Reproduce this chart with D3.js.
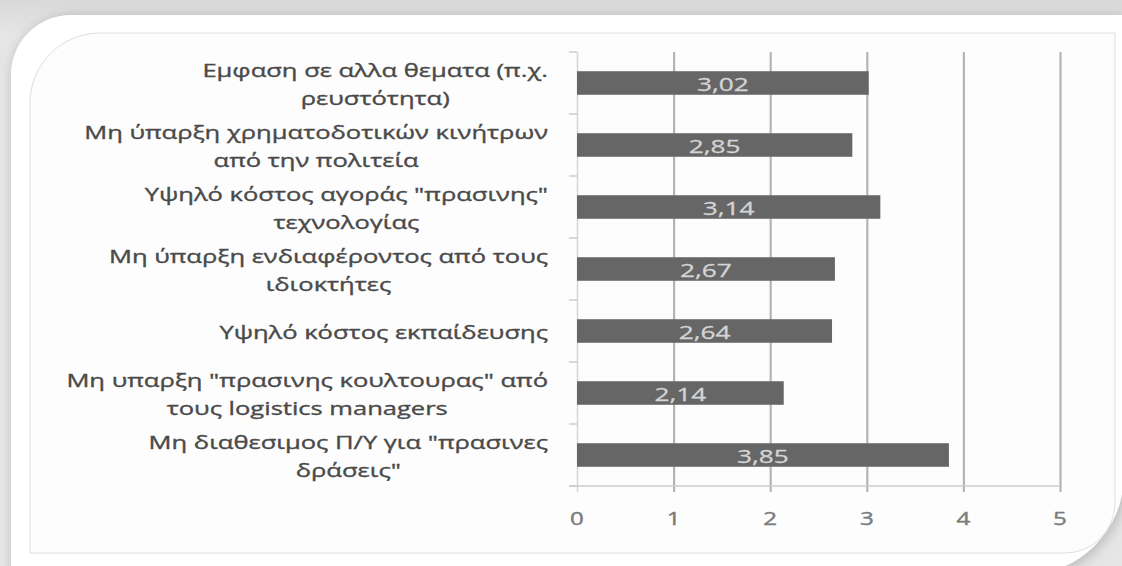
<!DOCTYPE html>
<html>
<head>
<meta charset="utf-8">
<script src="https://cdn.jsdelivr.net/npm/d3@7"></script>
<style>
  html, body { margin: 0; padding: 0; background: #e3e3e3; }
  svg { display: block; }
</style>
</head>
<body>
<svg id="chart" width="1122" height="566"></svg>
<script>
// Barrier categories (top to bottom), each split into its display lines
const categories = [
  "Εμφαση σε αλλα θεματα (π.χ. ρευστότητα)",
  "Μη ύπαρξη χρηματοδοτικών κινήτρων από την πολιτεία",
  "Υψηλό κόστος αγοράς \"πρασινης\" τεχνολογίας",
  "Μη ύπαρξη ενδιαφέροντος από τους ιδιοκτήτες",
  "Υψηλό κόστος εκπαίδευσης",
  "Μη υπαρξη \"πρασινης κουλτουρας\" από τους logistics managers",
  "Μη διαθεσιμος Π/Υ για \"πρασινες δράσεις\""
];
const categoryLines = [
  ["Εμφαση σε αλλα θεματα (π.χ.", "ρευστότητα)"],
  ["Μη ύπαρξη χρηματοδοτικών κινήτρων", "από την πολιτεία"],
  ["Υψηλό κόστος αγοράς \"πρασινης\"", "τεχνολογίας"],
  ["Μη ύπαρξη ενδιαφέροντος από τους", "ιδιοκτήτες"],
  ["Υψηλό κόστος εκπαίδευσης"],
  ["Μη υπαρξη \"πρασινης κουλτουρας\" από", "τους logistics managers"],
  ["Μη διαθεσιμος Π/Υ για \"πρασινες", "δράσεις\""]
];
// Mean scores
const values = [3.02, 2.85, 3.14, 2.67, 2.64, 2.14, 3.85];
const valueLabels = ["3,02", "2,85", "3,14", "2,67", "2,64", "2,14", "3,85"];
// Horizontal axis ticks
const xTicks = [0, 1, 2, 3, 4, 5];

const svg = d3.select("#chart");
const W = 1122, H = 566;
const FONT = "'Open Sans', 'DejaVu Sans', sans-serif";
const SX = 1.38; // text is drawn wide

// ---- frame: grey page, white card with soft shadow, thin inner border ----
const defs = svg.append("defs");
const shadow = defs.append("filter").attr("id", "cardShadow")
  .attr("x", "-10%").attr("y", "-10%").attr("width", "120%").attr("height", "120%");
shadow.append("feDropShadow").attr("dx", 2).attr("dy", 2)
  .attr("stdDeviation", 7).attr("flood-color", "#8a8a8a").attr("flood-opacity", 0.55);

const topGrad = defs.append("linearGradient").attr("id", "pageGrad")
  .attr("x1", 0).attr("y1", 0).attr("x2", 0).attr("y2", 1);
topGrad.append("stop").attr("offset", "0").attr("stop-color", "#d9d9d9");
topGrad.append("stop").attr("offset", "0.06").attr("stop-color", "#e6e6e6");
topGrad.append("stop").attr("offset", "1").attr("stop-color", "#e6e6e6");

svg.append("rect").attr("width", W).attr("height", H).attr("fill", "url(#pageGrad)");

const card = d3.path();
card.moveTo(11, H + 20);
card.lineTo(11, 75);
card.arcTo(11, 15, 71, 15, 60);
card.lineTo(1124, 15);
card.lineTo(1124, 475);
card.arcTo(1124, 575, 1024, 575, 100);
card.lineTo(11, 575);
card.closePath();
svg.append("path").attr("d", card.toString())
  .attr("fill", "#ffffff").attr("filter", "url(#cardShadow)");

const inner = d3.path();
inner.moveTo(30, 553);
inner.lineTo(30, 103);
inner.arcTo(30, 33, 100, 33, 70);
inner.lineTo(1115, 33);
inner.lineTo(1115, 503);
inner.arcTo(1115, 553, 1065, 553, 50);
inner.closePath();
svg.append("path").attr("d", inner.toString())
  .attr("fill", "#fdfdfd").attr("stroke", "#dedede").attr("stroke-width", 1);

// ---- scales ----
const plotTop = 52, plotBottom = 486, plotLeft = 577, plotRight = 1060;
const x = d3.scaleLinear().domain([0, 5]).range([plotLeft, plotRight]);
const y = d3.scaleBand().domain(categories).range([plotTop, plotBottom])
  .paddingInner(0.62).paddingOuter(0.31);

// helper: horizontally stretched text anchored at (px, py)
function wideText(g, px, py, str, opts) {
  return g.append("text")
    .attr("transform", `translate(${px},${py}) scale(${SX},1)`)
    .attr("text-anchor", opts.anchor || "middle")
    .attr("dominant-baseline", "central")
    .attr("font-family", FONT)
    .attr("font-size", opts.size)
    .attr("fill", opts.fill)
    .attr("stroke", opts.fill)
    .attr("stroke-width", opts.weight || 0)
    .text(str);
}

// ---- gridlines + x axis ----
const xAxis = d3.axisBottom(x).tickValues(xTicks)
  .tickSize(-(plotBottom - plotTop)).tickFormat("");
const gx = svg.append("g").attr("transform", `translate(0,${plotBottom})`).call(xAxis);
gx.select(".domain").remove();
gx.selectAll(".tick line").attr("stroke", "#b4b4b4").attr("stroke-width", 2.2)
  .attr("y2", -(plotBottom - plotTop)).attr("y1", 6);
gx.selectAll(".tick").filter(d => d === 0).select("line")
  .attr("stroke", "#d6d6d6").attr("stroke-width", 1.5);

// baseline
svg.append("line").attr("x1", plotLeft - 8).attr("x2", plotRight)
  .attr("y1", plotBottom).attr("y2", plotBottom)
  .attr("stroke", "#cdcdcd").attr("stroke-width", 1.5);

// category boundary ticks on the left axis
const boundaries = d3.range(categories.length + 1).map(i => plotTop + i * y.step());
svg.append("g").selectAll("line").data(boundaries).join("line")
  .attr("x1", plotLeft - 8).attr("x2", plotLeft)
  .attr("y1", d => d).attr("y2", d => d)
  .attr("stroke", "#cdcdcd").attr("stroke-width", 1.5);

// x tick labels
const gxl = svg.append("g");
xTicks.forEach(t => wideText(gxl, x(t), 518, String(t),
  { size: 17.5, fill: "#7c7c7c", weight: 0.4 }));

// ---- bars ----
svg.append("g").selectAll("rect").data(categories).join("rect")
  .attr("x", x(0))
  .attr("y", d => y(d))
  .attr("width", (d, i) => x(values[i]) - x(0))
  .attr("height", y.bandwidth())
  .attr("fill", "#666666");

// value labels centred in the bars
const gv = svg.append("g");
categories.forEach((c, i) => {
  wideText(gv, (x(0) + x(values[i])) / 2, y(c) + y.bandwidth() / 2 + 1,
    valueLabels[i], { size: 19, fill: "#d4d4d4", weight: 0.3 });
});

// ---- category labels: lines centred within a right-aligned block ----
const labelRight = 548, lineGap = 27.5;
const gl = svg.append("g");
categories.forEach((c, i) => {
  const lines = categoryLines[i];
  const cy = y(c) + y.bandwidth() / 2 + 1;
  const texts = lines.map((ln, k) =>
    wideText(gl, 0, cy + (k - (lines.length - 1) / 2) * lineGap, ln,
      { size: 18.5, fill: "#4a4a4a", weight: 0.35 }));
  const maxW = d3.max(texts, t => t.node().getComputedTextLength()) * SX;
  const cx = labelRight - maxW / 2;
  texts.forEach((t, k) => {
    const ty = cy + (k - (lines.length - 1) / 2) * lineGap;
    t.attr("transform", `translate(${cx},${ty}) scale(${SX},1)`);
  });
});
</script>
</body>
</html>
